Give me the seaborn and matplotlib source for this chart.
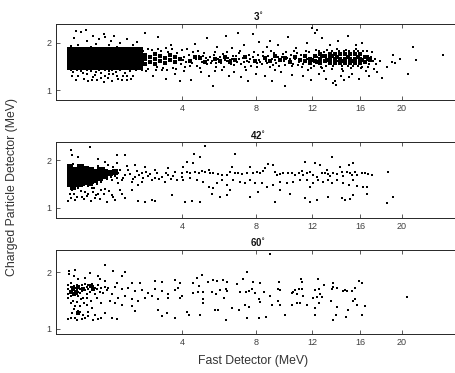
import numpy as np
import matplotlib
matplotlib.use("Agg")
import matplotlib.pyplot as plt
import seaborn as sns

# ---------------- data ----------------
titles = ["3$^{\\circ}$", "42$^{\\circ}$", "60$^{\\circ}$"]
x_ticks = [4, 8, 12, 16, 20]
y_ticks = [1, 2]

# panel 1 (3 deg): dense core events near threshold
p1_core_x_cols = [0.55, 0.64, 0.73, 0.83, 0.93, 1.05, 1.16, 1.29, 1.42, 1.56, 1.70, 1.85, 2.00, 2.17, 2.34]
p1_core_y_rows = [1.50, 1.59, 1.68, 1.77, 1.86]
# panel 1: dense band further out
p1_band = [
    (2.51,1.56),(2.51,1.66),(2.51,1.75),(2.69,1.60),(2.69,1.70),(2.88,1.56),(2.88,1.66),(2.88,1.76),
    (3.07,1.62),(3.07,1.72),(3.27,1.58),(3.27,1.68),(3.48,1.64),(3.48,1.74),(3.69,1.60),(3.69,1.70),(3.91,1.66),
    (4.37,1.62),(4.85,1.68),(5.10,1.60),(5.62,1.66),(6.17,1.70),(6.45,1.60),(6.74,1.65),(7.33,1.70),(7.95,1.62),
    (4.60,1.70),(5.90,1.62),
    (8.60,1.68),(8.93,1.62),(9.27,1.72),(9.62,1.64),(9.97,1.68),(10.33,1.60),(10.69,1.70),(11.06,1.64),
    (11.44,1.62),(11.44,1.72),(11.82,1.58),(11.82,1.67),(12.21,1.62),(12.21,1.72),(12.61,1.58),(12.61,1.67),(12.61,1.76),
    (13.01,1.62),(13.01,1.72),(13.42,1.58),(13.42,1.67),(13.42,1.76),(13.83,1.58),(13.83,1.67),(13.83,1.76),
    (14.25,1.58),(14.25,1.67),(14.25,1.76),(14.68,1.58),(14.68,1.67),(14.68,1.76),(15.12,1.58),(15.12,1.67),(15.12,1.76),
    (15.55,1.58),(15.55,1.67),(15.55,1.76),(16.00,1.58),(16.00,1.67),(16.00,1.76),(16.45,1.60),(16.45,1.70),(16.91,1.64),
    (12.00,1.64),(12.40,1.60),(12.80,1.72),(13.20,1.64),(13.60,1.72),(14.00,1.70),(14.45,1.62),(14.90,1.70),(15.35,1.62),
    (15.80,1.70),(16.20,1.64),(16.70,1.66),
]
p1_points = [
    (0.56,1.42),(0.60,1.38),(0.65,1.22),(0.70,1.30),(0.75,1.41),(0.80,1.25),(0.86,1.35),(0.90,1.19),(0.95,1.40),(1.00,1.28),
    (1.05,1.33),(1.10,1.22),(1.15,1.42),(1.20,1.37),(1.25,1.18),(1.30,1.30),(1.36,1.26),(1.40,1.40),(1.46,1.20),(1.50,1.34),
    (1.58,1.38),(1.64,1.25),(1.70,1.42),(1.78,1.30),(1.85,1.36),(1.92,1.22),(2.00,1.40),(2.10,1.30),(2.20,1.44),(0.58,1.30),
    (0.68,1.44),(0.78,1.37),(0.88,1.43),(0.98,1.21),(1.08,1.38),(1.18,1.27),(1.28,1.43),(1.38,1.34),(1.48,1.42),(1.62,1.31),
    (1.75,1.22),(1.90,1.30),(2.05,1.25),
    (0.56,1.93),(0.62,2.10),(0.70,1.96),(0.75,2.22),(0.80,1.90),(0.88,2.05),(0.95,1.92),(1.00,2.15),(1.08,1.98),(1.15,2.08),
    (1.22,1.90),(1.30,2.12),(1.38,1.95),(1.45,2.05),(1.52,2.15),(1.60,1.92),(1.70,2.00),(1.80,1.90),(1.90,2.08),(2.10,1.95),
    (2.25,2.02),(0.66,2.26),(0.85,2.28),(1.25,2.18),(0.60,1.88),(1.12,1.90),(1.42,1.90),(1.95,1.90),
    (0.60,1.46),(0.70,1.45),(0.90,1.45),(1.10,1.46),(1.35,1.45),(1.60,1.46),(1.90,1.46),(2.25,1.47),(0.65,1.90),(0.90,1.89),
    (1.20,1.89),(1.50,1.90),(1.75,1.89),(2.10,1.88),(2.45,1.60),(2.45,1.70),
    (2.40,1.50),(2.45,1.82),(2.60,1.46),(2.75,1.86),(2.95,1.50),(3.10,1.83),(3.20,1.47),(3.40,1.80),(3.60,1.48),(3.80,1.78),
    (3.95,1.55),(4.10,1.70),(4.20,1.60),(4.30,1.75),(4.45,1.58),(4.55,1.68),(4.70,1.52),(4.80,1.72),(4.95,1.60),(5.05,1.78),
    (5.20,1.55),(5.35,1.70),(5.45,1.62),(5.55,1.74),(5.70,1.50),(5.80,1.66),(5.95,1.58),(6.05,1.76),(6.25,1.62),(6.35,1.68),
    (6.50,1.55),(6.60,1.72),(6.85,1.60),(6.95,1.78),(7.10,1.56),(7.20,1.68),(7.45,1.62),(7.55,1.75),(7.70,1.52),(7.85,1.70),
    (8.05,1.58),(8.15,1.74),(4.05,1.64),(4.65,1.66),(5.25,1.65),(5.90,1.70),(6.45,1.64),(7.00,1.66),(7.60,1.60),(8.20,1.65),
    (2.30,1.90),(2.60,1.88),(2.40,1.42),(2.55,1.40),(2.90,1.44),(3.00,1.88),(3.30,1.90),(3.35,1.44),(3.55,1.87),(3.75,1.45),
    (4.00,1.85),(4.15,1.50),(4.35,1.52),(4.50,1.80),(4.75,1.82),(4.85,1.48),(5.00,1.72),(5.15,1.68),(5.40,1.58),(5.60,1.80),
    (5.65,1.58),(6.10,1.50),(6.15,1.64),(6.30,1.80),(6.55,1.66),(6.70,1.54),(6.80,1.72),(7.05,1.82),(7.25,1.60),(7.35,1.50),
    (7.65,1.66),(7.90,1.80),(8.10,1.50),(8.30,1.60),(8.45,1.72),(8.75,1.58),(8.85,1.64),(9.00,1.84),(9.15,1.54),(9.25,1.64),
    (9.55,1.52),(9.75,1.70),(9.90,1.62),(10.05,1.80),(10.30,1.66),(10.45,1.52),(10.60,1.82),(10.90,1.54),(11.10,1.74),
    (11.30,1.56),(11.60,1.66),(11.75,1.80),(12.00,1.62),(12.10,1.52),(12.40,1.70),(12.50,1.82),(12.70,1.50),(12.95,1.80),
    (13.10,1.52),(13.30,1.70),(13.55,1.82),(13.70,1.52),(14.00,1.62),(14.15,1.84),(14.45,1.52),(14.60,1.82),(14.90,1.52),
    (15.00,1.84),(15.35,1.52),(15.45,1.84),(15.80,1.52),(15.85,1.82),(16.20,1.50),(16.30,1.84),(16.70,1.72),(16.70,1.50),
    (17.10,1.80),(17.40,1.66),(17.50,1.56),(17.80,1.62),
    (2.50,2.20),(2.80,1.30),(3.00,2.12),(3.30,1.25),(3.50,1.95),(3.70,1.35),(3.90,1.20),(4.10,1.40),(4.40,1.22),(4.60,1.98),
    (4.90,1.38),(5.20,2.10),(5.30,1.30),(5.50,1.10),(5.75,1.92),(6.00,1.42),(6.20,2.15),(6.40,1.30),(6.70,1.38),(6.90,2.20),
    (7.10,1.28),(7.30,1.95),(7.50,1.20),(7.80,2.18),(8.00,1.35),(8.20,2.02),(3.15,1.42),(4.25,1.88),(5.60,1.40),(6.55,1.90),
    (7.40,1.42),
    (8.40,1.55),(8.50,1.80),(8.65,1.62),(8.80,1.72),(8.95,1.50),(9.05,1.66),(9.20,1.78),(9.35,1.58),(9.50,1.70),(9.65,1.62),
    (9.80,1.76),(9.95,1.54),(10.10,1.68),(10.25,1.60),(10.40,1.74),(10.55,1.56),(10.70,1.66),(10.85,1.78),(11.00,1.60),
    (8.60,1.30),(8.90,2.05),(9.10,1.20),(9.45,1.95),(9.70,1.38),(10.00,1.10),(10.20,2.12),(10.50,1.32),(10.80,1.90),(9.30,1.42),
    (8.70,1.92),
    (11.20,1.50),(11.50,1.84),(11.90,1.48),(12.30,1.86),(12.80,1.47),(13.20,1.85),(13.60,1.46),(14.00,1.88),(14.40,1.45),
    (14.80,1.86),(15.20,1.48),(15.60,1.88),(16.10,1.47),(16.60,1.82),(16.80,1.55),(17.00,1.70),(17.20,1.62),
    (11.30,1.30),(11.60,2.00),(11.90,1.22),(12.20,2.20),(12.50,1.35),(12.80,2.10),(13.10,1.25),(13.40,1.95),(13.70,1.15),
    (13.80,1.20),(14.10,2.05),(14.30,1.30),(14.60,1.22),(14.90,2.15),(15.30,1.35),(15.60,1.95),(15.90,1.25),(16.20,2.00),
    (16.50,1.40),(16.80,1.30),(17.30,1.45),(17.60,1.38),(12.00,2.32),(12.40,2.28),(13.90,1.12),(15.00,1.28),(14.50,1.40),
    (12.90,1.40),(11.70,1.42),
    (19.10,1.75),(19.80,1.67),(19.30,1.57),(18.50,1.50),(18.00,1.27),(19.00,1.60),(21.10,1.92),(21.40,1.63),(20.60,1.34),
    (24.30,1.74),
]

# panel 2 (42 deg)
p2_core = [
    (0.55,1.50),(0.55,1.59),(0.55,1.68),(0.55,1.77),(0.55,1.85),
    (0.64,1.53),(0.64,1.62),(0.64,1.71),(0.64,1.80),
    (0.73,1.50),(0.73,1.59),(0.73,1.68),(0.73,1.77),(0.73,1.86),
    (0.83,1.55),(0.83,1.64),(0.83,1.73),(0.83,1.82),
    (0.93,1.52),(0.93,1.61),(0.93,1.70),(0.93,1.79),
    (1.05,1.58),(1.05,1.67),(1.05,1.76),
    (1.16,1.62),(1.16,1.71),(1.16,1.80),
    (1.29,1.66),(1.29,1.75),(1.42,1.72),(1.56,1.75),(0.60,1.44),
]
p2_points = [
    (5.10,2.29),(4.55,2.13),(4.85,2.07),(6.75,2.13),(4.21,1.97),(4.52,1.94),(4.06,1.86),(4.21,1.76),(3.98,1.72),(4.37,1.73),
    (4.60,1.76),(4.78,1.72),(4.93,1.78),(5.10,1.76),(5.28,1.79),(5.36,1.72),(5.53,1.73),(5.80,1.71),(5.98,1.69),(6.26,1.69),
    (6.45,1.76),(6.55,1.85),(6.74,1.72),(6.93,1.73),(7.13,1.70),(7.44,1.72),(7.64,1.86),(7.85,1.73),(8.06,1.76),(8.27,1.72),
    (8.49,1.77),(8.60,1.83),(8.82,1.92),(9.16,1.90),(9.27,1.76),(9.39,1.69),(9.62,1.71),(9.85,1.72),(10.20,1.72),(10.45,1.73),
    (10.70,1.69),(10.95,1.73),(11.20,1.78),(11.31,1.69),(11.45,1.97),(11.57,1.72),(11.82,1.76),(12.08,1.69),(12.20,1.94),
    (12.34,1.64),(12.61,1.90),(12.75,1.72),(13.00,1.73),(13.14,1.79),(13.28,1.70),(13.42,1.66),(13.55,2.06),(13.69,1.72),
    (13.97,1.71),(14.25,1.86),(14.40,1.76),(14.54,1.66),(14.83,1.76),(15.00,1.90),(15.12,1.72),(15.25,1.69),(15.40,1.93),
    (15.55,1.76),(15.70,1.69),(16.15,1.72),(16.45,1.72),(16.76,1.70),(17.07,1.69),(18.65,1.76),
    (4.06,1.58),(4.37,1.62),(4.69,1.58),(5.01,1.55),(5.28,1.44),(5.53,1.41),(5.71,1.53),(5.98,1.58),(6.26,1.48),(6.45,1.37),
    (6.64,1.58),(7.03,1.55),(7.34,1.51),(7.64,1.58),(7.95,1.53),(8.38,1.51),(8.71,1.44),(9.16,1.48),(9.62,1.55),(10.09,1.51),
    (10.57,1.55),(11.06,1.58),(11.57,1.59),(11.82,1.44),(12.08,1.53),(12.47,1.58),(12.87,1.55),(13.28,1.59),(13.55,1.51),
    (13.97,1.58),(14.54,1.53),(15.00,1.48),(15.40,1.58),(15.70,1.45),(16.30,1.44),(5.45,1.30),(5.89,1.23),(6.26,1.27),
    (7.64,1.23),(8.17,1.34),(9.27,1.13),(9.62,1.37),(10.33,1.30),(11.45,1.20),(11.82,1.13),(12.34,1.16),(13.28,1.22),
    (14.40,1.20),(14.70,1.16),(15.12,1.18),(15.40,1.27),(16.60,1.30),(16.60,1.44),(4.13,1.13),(4.45,1.15),(4.85,1.13),
    (18.50,1.11),(19.14,1.23),
    (0.56,2.21),(0.59,2.10),(0.93,2.28),(0.70,2.07),(1.60,2.10),(1.85,2.10),(1.12,2.03),(1.29,1.97),(1.37,1.90),(1.60,1.94),
    (2.17,1.90),(2.51,1.86),(2.88,1.79),(3.41,1.83),(3.99,1.72),
    (0.56,1.20),(0.64,1.16),(0.76,1.23),(0.90,1.30),(1.05,1.20),(1.20,1.37),(1.33,1.13),(1.46,1.27),(1.75,1.30),(2.06,1.37),
    (2.28,1.15),(2.51,1.13),(2.75,1.16),(2.88,1.15),(1.56,1.16),(1.85,1.20),(0.59,1.37),(0.70,1.41),(0.83,1.34),(0.97,1.41),
    (1.12,1.30),(3.55,1.27),
    (0.52,1.15),(0.62,1.28),(0.68,1.22),(0.74,1.35),(0.80,1.18),(0.86,1.25),(0.95,1.15),(1.00,1.33),(1.08,1.26),(1.16,1.18),
    (1.25,1.28),(1.40,1.36),(1.50,1.22),(1.70,1.38),(0.55,1.30),(1.03,1.42),(1.30,1.40),
    (0.52,1.90),(0.60,1.92),(0.78,1.90),(0.90,1.86),(1.00,1.84),(1.10,1.50),(1.20,1.54),(1.25,1.84),(1.35,1.60),(1.35,1.80),
    (1.45,1.64),(1.50,1.78),(0.68,1.46),(0.80,1.48),(0.90,1.46),(1.00,1.52),(0.52,1.45),(1.12,1.88),
    (1.46,1.76),(1.65,1.72),(1.85,1.69),(1.95,1.79),(2.17,1.65),(2.39,1.72),(2.63,1.66),(2.88,1.62),(3.14,1.64),(3.41,1.69),
    (3.69,1.76),(3.99,1.65),(1.75,1.58),(2.06,1.55),(2.39,1.55),(2.75,1.58),(3.27,1.55),(1.46,1.58),(1.65,1.51),(2.28,1.48),
    (1.55,1.66),(1.70,1.80),(1.80,1.62),(2.00,1.70),(2.10,1.60),(2.25,1.78),(2.45,1.62),(2.55,1.75),(2.70,1.70),(2.95,1.73),
    (3.05,1.60),(3.30,1.72),(3.50,1.60),(3.60,1.66),(3.80,1.58),(1.50,1.85),(1.90,1.88),(2.30,1.68),(1.62,1.62),(1.40,1.70),
]

# panel 3 (60 deg)
p3_core = [
    (0.60,1.72),(0.66,1.66),(0.70,1.74),(0.95,1.76),(1.00,1.70),(0.62,1.62),(0.78,1.70),(0.70,1.28),(0.56,1.66),
]
p3_points = [
    (8.93,2.32),(7.44,2.00),(4.93,1.95),(4.69,1.91),(5.53,1.87),(6.07,1.87),(7.23,1.88),(6.26,1.83),(5.71,1.85),(4.52,1.82),
    (5.26,1.83),(6.84,1.79),(7.85,1.83),(8.27,1.81),(9.52,1.83),(11.15,1.89),(11.20,1.83),(12.45,1.88),(13.69,1.81),
    (12.95,1.78),(15.90,1.85),(16.15,1.81),
    (4.00,1.59),(4.78,1.76),(4.52,1.63),(4.74,1.65),(5.00,1.65),(5.45,1.65),(5.70,1.62),(5.89,1.68),(6.26,1.67),(6.20,1.70),
    (7.03,1.65),(7.42,1.65),(7.60,1.67),(7.74,1.70),(7.95,1.64),(8.55,1.65),(8.93,1.58),(9.45,1.70),(9.60,1.69),(10.45,1.63),
    (10.57,1.65),(10.70,1.68),(10.81,1.61),(10.95,1.71),(11.20,1.71),(11.31,1.58),(12.08,1.55),(12.20,1.68),(12.34,1.56),
    (12.50,1.70),(12.75,1.56),(12.61,1.61),(13.55,1.70),(13.69,1.74),(13.97,1.72),(14.54,1.67),(14.70,1.69),(14.83,1.67),
    (15.25,1.67),(15.55,1.72),(15.55,1.52),(15.40,1.50),
    (3.91,1.55),(5.00,1.52),(5.00,1.46),(5.62,1.34),(5.80,1.34),(6.10,1.55),(6.55,1.37),(6.95,1.34),(7.34,1.43),(7.60,1.39),
    (8.20,1.52),(8.30,1.48),(9.05,1.42),(9.50,1.50),(9.62,1.43),(10.45,1.43),(10.81,1.46),(11.06,1.46),(11.57,1.43),
    (12.20,1.37),(12.50,1.46),(13.50,1.50),(13.97,1.39),(14.90,1.34),(15.70,1.43),(16.45,1.40),
    (4.21,1.30),(4.30,1.25),(4.85,1.25),(6.20,1.16),(7.44,1.19),(8.20,1.19),(8.65,1.21),(10.00,1.25),(12.20,1.25),
    (13.69,1.16),(13.90,1.24),(14.80,1.21),(16.15,1.24),(20.47,1.56),
    (1.29,2.13),(0.53,2.03),(0.53,1.98),(0.64,2.05),(0.62,1.93),(0.93,1.99),(1.51,2.02),(1.85,2.00),(1.75,1.93),(1.12,1.93),
    (0.82,1.91),(0.70,1.88),(1.16,1.88),(1.29,1.85),(1.60,1.82),(2.06,1.82),(2.34,1.82),(2.88,1.85),(3.14,1.83),(3.69,1.86),
    (3.92,1.82),
    (1.37,1.73),(1.56,1.74),(1.75,1.70),(1.95,1.73),(2.17,1.67),(2.39,1.68),(2.63,1.64),(2.88,1.70),(3.14,1.67),(3.41,1.61),
    (3.69,1.68),(3.84,1.73),(1.46,1.61),(1.65,1.55),(1.85,1.58),(2.06,1.52),(2.28,1.49),(2.51,1.55),(2.75,1.58),(3.01,1.52),
    (3.41,1.55),
    (1.41,1.49),(1.56,1.46),(1.75,1.43),(2.06,1.40),(2.17,1.31),(3.01,1.34),(3.14,1.22),(3.34,1.28),(3.69,1.20),(1.46,1.20),
    (1.60,1.17),(0.90,1.22),(0.64,1.20),(0.76,1.17),(0.56,1.20),(0.59,1.28),(0.70,1.31),(1.05,1.25),(1.12,1.17),(1.29,1.28),
    (0.97,1.37),(0.86,1.43),(0.64,1.40),(0.52,1.17),(0.67,1.16),(0.79,1.25),(0.83,1.19),(0.73,1.30),(0.62,1.35),(0.56,1.45),
    (1.00,1.16),(1.20,1.20),(0.90,1.30),
    (0.52,1.78),(0.52,1.70),(0.52,1.62),(0.52,1.55),(0.56,1.82),(0.56,1.74),(0.56,1.66),(0.56,1.58),(0.59,1.70),(0.59,1.63),
    (0.62,1.76),(0.62,1.68),(0.62,1.60),(0.64,1.72),(0.64,1.65),(0.67,1.78),(0.67,1.69),(0.67,1.62),(0.70,1.74),(0.70,1.66),
    (0.70,1.58),(0.73,1.70),(0.73,1.63),(0.76,1.78),(0.76,1.67),(0.79,1.72),(0.79,1.55),(0.83,1.68),(0.83,1.80),(0.86,1.62),
    (0.86,1.74),(0.90,1.78),(0.90,1.70),(0.93,1.75),(0.93,1.66),(0.97,1.80),(0.97,1.72),(1.01,1.76),(1.01,1.68),(1.05,1.73),
    (1.05,1.62),(1.09,1.70),(1.12,1.78),(1.16,1.66),(1.20,1.72),(1.24,1.64),(1.29,1.75),(1.33,1.68),(0.60,1.50),(0.68,1.47),
    (0.75,1.52),(0.80,1.45),(0.88,1.55),(0.95,1.50),(1.10,1.55),(1.20,1.45),(0.72,1.40),
]

# ---------------- figure ----------------
sns.set_theme(style="white")
plt.rcParams["font.family"] = ["Liberation Sans", "DejaVu Sans"]

fig = plt.figure(figsize=(4.55, 3.73), dpi=100)
rects = [[0.123, 0.732, 0.888, 0.204],
         [0.123, 0.416, 0.888, 0.202],
         [0.123, 0.105, 0.888, 0.225]]
ylims = [(0.8, 2.4), (0.79, 2.37), (0.91, 2.4)]

p1_core = [(cx, cy) for cx in p1_core_x_cols for cy in p1_core_y_rows]
series = [
    [(p1_core, 13), (p1_band, 8), (p1_points, 2.6)],
    [(p2_core, 15), (p2_points, 2.6)],
    [(p3_core, 7), (p3_points, 2.6)],
]

fwd = lambda v: np.sqrt(np.maximum(v, 0))
inv = lambda v: np.square(v)

for i in range(3):
    ax = fig.add_axes(rects[i])
    ax.set_xscale("function", functions=(fwd, inv))
    for pts, size in series[i]:
        sns.scatterplot(x=[q[0] for q in pts], y=[q[1] for q in pts], ax=ax, marker="s",
                        s=size, color="black", linewidth=0)
    ax.set_xlim(0.341, 26.25)
    ax.set_ylim(*ylims[i])
    ax.set_xticks(x_ticks)
    ax.set_xticklabels([str(t) for t in x_ticks])
    ax.set_yticks(y_ticks)
    ax.set_yticklabels([str(t) for t in y_ticks])
    ax.tick_params(axis="both", direction="in", length=3, width=0.6, labelsize=6.5,
                   colors="#404040", top=True, bottom=True, left=True, right=False, pad=3)
    for sp in ax.spines.values():
        sp.set_color("#262626")
        sp.set_linewidth(0.7)
    ax.set_xlabel("")
    ax.set_ylabel("")
    ax.set_title(titles[i], fontsize=7, fontweight="bold", pad=2.5, color="#111111")

fig.text(0.026, 0.50, "Charged Particle Detector (MeV)", rotation=90, ha="center", va="center",
         fontsize=8.8, color="#333333")
fig.text(0.556, 0.032, "Fast Detector (MeV)", ha="center", va="center", fontsize=8.8, color="#333333")

fig.savefig("out.png", dpi=100)
